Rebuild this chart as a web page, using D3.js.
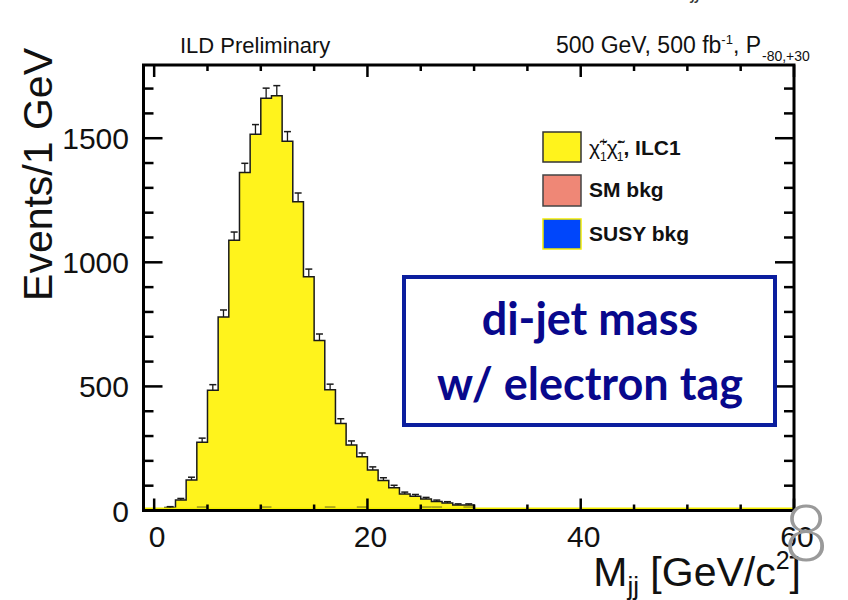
<!DOCTYPE html>
<html>
<head>
<meta charset="utf-8">
<script src="https://cdn.jsdelivr.net/npm/d3@7"></script>
<style>
  html, body { margin: 0; padding: 0; background: #ffffff; }
  svg { display: block; }
</style>
</head>
<body>
<svg id="chart" width="848" height="600"></svg>
<script>
// ---------------- data ----------------
const binLowEdges = [0,1,2,3,4,5,6,7,8,9,10,11,12,13,14,15,16,17,18,19,20,21,22,23,24,25,26,27,28,29];
const binWidth = 1;
const signalCounts = [0,12,42,123,275,485,780,1089,1362,1516,1661,1671,1488,1244,942,685,487,351,264,217,163,121,92,66,57,46,36,30,22,22];
const smBkgBins = [4,10,16,19,25,26,29];
const smBkgCounts = [12,12,12,12,12,12,12];
const xMajorTicks = [0,20,40,60];
const xMinorTicks = [5,10,15,25,30,35,45,50,55];
const yMajorTicks = [0,500,1000,1500];
const yMinorTicks = [100,200,300,400,600,700,800,900,1100,1200,1300,1400,1600,1700];
const xDomain = [-1, 60];
const yDomain = [0, 1795];
const legendLabels = ["SM bkg", "SUSY bkg"];

// ---------------- layout ----------------
const svg = d3.select("#chart");
const L = 143.5, R = 794, T = 65, B = 510.5;
const x = d3.scaleLinear().domain(xDomain).range([L, R]);
const y = d3.scaleLinear().domain(yDomain).range([B, T]);
const FONT = "'Liberation Sans', Arial, Helvetica, sans-serif";

// ---------------- histogram ----------------
let pts = [[x(xDomain[0]), y(0)]];
binLowEdges.forEach((lo, i) => {
  pts.push([x(lo), y(signalCounts[i])]);
  pts.push([x(lo + binWidth), y(signalCounts[i])]);
});
pts.push([x(binLowEdges[binLowEdges.length-1] + binWidth), y(0)]);
const areaPts = pts.concat([[x(binLowEdges[binLowEdges.length-1] + binWidth), y(0)]]);
svg.append("path")
  .attr("d", d3.line()(areaPts) + "Z")
  .attr("fill", "#fff31c").attr("stroke", "none");
svg.append("path")
  .attr("d", d3.line()(pts.slice(1)))
  .attr("fill", "none").attr("stroke", "#1a1a1a").attr("stroke-width", 1.5);

// SM bkg (tiny) dashes
smBkgBins.forEach((b, i) => {
  svg.append("line")
    .attr("x1", x(b)).attr("x2", x(b + binWidth))
    .attr("y1", y(smBkgCounts[i])).attr("y2", y(smBkgCounts[i]))
    .attr("stroke", "#6b661c").attr("stroke-width", 2);
});

// yellow zero line (SUSY bkg border)
svg.append("line")
  .attr("x1", x(xDomain[0])).attr("x2", x(xDomain[1]))
  .attr("y1", y(0) - 2).attr("y2", y(0) - 2)
  .attr("stroke", "#f5ef00").attr("stroke-width", 2);

// error bars (upper half visible)
binLowEdges.forEach((lo, i) => {
  const c = signalCounts[i];
  if (c <= 0) return;
  const cx = x(lo + binWidth / 2);
  const e = Math.sqrt(c);
  svg.append("line").attr("x1", cx).attr("x2", cx)
    .attr("y1", y(c)).attr("y2", y(c + e))
    .attr("stroke", "#1a1a1a").attr("stroke-width", 1.3);
  svg.append("line").attr("x1", cx - 3.5).attr("x2", cx + 3.5)
    .attr("y1", y(c + e)).attr("y2", y(c + e))
    .attr("stroke", "#1a1a1a").attr("stroke-width", 1.5);
});

// ---------------- frame & ticks ----------------
const tk = svg.append("g").attr("stroke", "#000");
xMajorTicks.forEach(v => {
  tk.append("line").attr("x1", x(v)).attr("x2", x(v)).attr("y1", B).attr("y2", B - 12).attr("stroke-width", 2.5);
  tk.append("line").attr("x1", x(v)).attr("x2", x(v)).attr("y1", T).attr("y2", T + 12).attr("stroke-width", 2.5);
});
xMinorTicks.forEach(v => {
  tk.append("line").attr("x1", x(v)).attr("x2", x(v)).attr("y1", B).attr("y2", B - 6).attr("stroke-width", 2.5);
  tk.append("line").attr("x1", x(v)).attr("x2", x(v)).attr("y1", T).attr("y2", T + 6).attr("stroke-width", 2.5);
});
yMajorTicks.forEach(v => {
  tk.append("line").attr("x1", L).attr("x2", L + 19).attr("y1", y(v)).attr("y2", y(v)).attr("stroke-width", 2.5);
  tk.append("line").attr("x1", R).attr("x2", R - 19).attr("y1", y(v)).attr("y2", y(v)).attr("stroke-width", 2.5);
});
yMinorTicks.forEach(v => {
  tk.append("line").attr("x1", L).attr("x2", L + 10).attr("y1", y(v)).attr("y2", y(v)).attr("stroke-width", 2.5);
  tk.append("line").attr("x1", R).attr("x2", R - 10).attr("y1", y(v)).attr("y2", y(v)).attr("stroke-width", 2.5);
});
svg.append("rect").attr("x", L).attr("y", T).attr("width", R - L).attr("height", B - T)
  .attr("fill", "none").attr("stroke", "#000").attr("stroke-width", 3);

// tick labels
xMajorTicks.forEach(v => {
  svg.append("text").attr("x", x(v) + 3).attr("y", 547).attr("text-anchor", "middle")
    .attr("font-family", FONT).attr("font-size", 30).attr("fill", "#111").text(v);
});
yMajorTicks.forEach(v => {
  svg.append("text").attr("x", 129).attr("y", y(v) + 11).attr("text-anchor", "end")
    .attr("font-family", FONT).attr("font-size", 30).attr("fill", "#111").text(v);
});

// axis titles
svg.append("text").attr("transform", "translate(52,48) rotate(-90)")
  .attr("text-anchor", "end").attr("font-family", FONT).attr("font-size", 41).attr("fill", "#111")
  .text("Events/1 GeV");
const xt = svg.append("text").attr("x", 801).attr("y", 586).attr("text-anchor", "end")
  .attr("font-family", FONT).attr("font-size", 41).attr("fill", "#111");
xt.append("tspan").text("M");
xt.append("tspan").attr("font-size", 26).attr("dy", 9).text("jj");
xt.append("tspan").attr("dy", -9).text(" [GeV/c");
xt.append("tspan").attr("font-size", 25).attr("dy", -17).text("2");
xt.append("tspan").attr("dy", 17).text("]");

// header
svg.append("text").attr("x", 180).attr("y", 53).attr("font-family", FONT).attr("font-size", 22)
  .attr("fill", "#111").text("ILD Preliminary");
const hd = svg.append("text").attr("x", 761).attr("y", 53).attr("text-anchor", "end")
  .attr("font-family", FONT).attr("font-size", 23).attr("fill", "#111");
hd.append("tspan").text("500 GeV, 500 fb");
hd.append("tspan").attr("font-size", 13).attr("dy", -9).text("-1");
hd.append("tspan").attr("dy", 9).text(", P");
svg.append("text").attr("x", 762).attr("y", 61).attr("font-family", FONT).attr("font-size", 14)
  .attr("fill", "#111").text("-80,+30");

// cut-off fragment at top
svg.append("text").attr("x", 692).attr("y", -1).attr("font-family", FONT).attr("font-style", "italic")
  .attr("font-size", 20).attr("fill", "#333").text("jj");

// ---------------- legend ----------------
const legend = svg.append("g");
legend.append("rect").attr("x", 543).attr("y", 132).attr("width", 38).attr("height", 30)
  .attr("fill", "#fff31c").attr("stroke", "#333").attr("stroke-width", 1.5);
legend.append("rect").attr("x", 543).attr("y", 175).attr("width", 38).attr("height", 31)
  .attr("fill", "#ef8776").attr("stroke", "#444").attr("stroke-width", 1.5);
legend.append("rect").attr("x", 543).attr("y", 219).attr("width", 38).attr("height", 30)
  .attr("fill", "#0046fb").attr("stroke", "#f3ec00").attr("stroke-width", 1.5);
const lt = legend.append("text").attr("x", 589).attr("y", 155).attr("font-family", FONT)
  .attr("font-size", 21).attr("fill", "#111");
lt.append("tspan").text("\u03C7\u0303");
lt.append("tspan").attr("font-size", 12).attr("dy", -9).text("+");
lt.append("tspan").attr("font-size", 12).attr("dx", -7).attr("dy", 15).text("1");
lt.append("tspan").attr("dy", -6).text("\u03C7\u0303");
lt.append("tspan").attr("font-size", 12).attr("dy", -9).text("-");
lt.append("tspan").attr("font-size", 12).attr("dx", -5).attr("dy", 15).text("1");
lt.append("tspan").attr("dy", -6).attr("font-weight", "bold").text(", ILC1");
legend.append("text").attr("x", 589).attr("y", 197).attr("font-family", FONT).attr("font-weight", "bold")
  .attr("font-size", 21).attr("fill", "#111").text(legendLabels[0]);
legend.append("text").attr("x", 589).attr("y", 241).attr("font-family", FONT).attr("font-weight", "bold")
  .attr("font-size", 21).attr("fill", "#111").text(legendLabels[1]);

// ---------------- annotation box ----------------
svg.append("rect").attr("x", 404).attr("y", 277).attr("width", 371).attr("height", 148)
  .attr("fill", "#fff").attr("stroke", "#0b1e9e").attr("stroke-width", 4);
svg.append("text").attr("x", 590).attr("y", 335).attr("text-anchor", "middle")
  .attr("font-family", "Lato, 'Open Sans', sans-serif").attr("font-weight", "bold")
  .attr("font-size", 45).attr("fill", "#08088c").text("di-jet mass");
svg.append("text").attr("x", 590).attr("y", 400).attr("text-anchor", "middle")
  .attr("font-family", "Lato, 'Open Sans', sans-serif").attr("font-weight", "bold")
  .attr("font-size", 45).attr("fill", "#08088c").text("w/ electron tag");

// slide number
svg.append("text").attr("x", 806).attr("y", 561).attr("text-anchor", "middle")
  .attr("font-family", "Lato, Roboto, sans-serif").attr("font-weight", 300)
  .attr("font-size", 78).attr("fill", "#9a9a9a").text("8");
</script>
</body>
</html>
